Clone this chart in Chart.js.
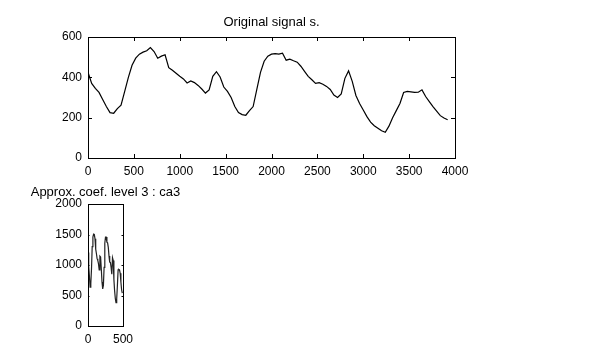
<!DOCTYPE html>
<html>
<head>
<meta charset="utf-8">
<script src="https://cdn.jsdelivr.net/npm/chart.js@4"></script>
<style>
  body { margin: 0; background: #fff; width: 605px; height: 362px; overflow: hidden; position: relative; }
  .box { position: absolute; }
</style>
</head>
<body>
<div class="box" style="left:0;top:0;width:480px;height:182px;"><canvas id="grafSenal"></canvas></div>
<div class="box" style="left:0;top:170px;width:300px;height:180px;"><canvas id="grafCa3"></canvas></div>
<script>
// señal original, una muestra cada 40 puntos
var pasoSenal = 40;
var senal = [425, 370, 345, 325, 290, 255, 225, 222, 245, 262,
  330, 400, 460, 495, 515, 525, 532, 548, 528, 495,
  505, 512, 448, 435, 420, 405, 392, 372, 382, 374,
  360, 342, 322, 338, 405, 428, 402, 352, 330, 300,
  255, 225, 215, 212, 235, 255, 340, 425, 480, 505,
  515, 518, 515, 520, 485, 490, 482, 475, 455, 430,
  405, 388, 370, 374, 366, 355, 340, 312, 300, 318,
  395, 432, 380, 310, 270, 238, 205, 178, 160, 148,
  135, 128, 158, 200, 235, 270, 325, 330, 328, 325,
  326, 338, 305, 280, 255, 232, 210, 198, 190];

// coeficientes de aproximacion nivel 3, uno cada 10 indices
var pasoCa3 = 10;
var ca3 = [1203, 976, 821, 637, 693, 934, 1302, 1457, 1506, 1500,
  1429, 1259, 1189, 1104, 1075, 1019, 920, 1146, 1132, 934,
  722, 608, 665, 962, 1358, 1457, 1457, 1373, 1364, 1288,
  1146, 1047, 1041, 962, 849, 1118, 1075, 764, 580, 453,
  382, 447, 665, 920, 928, 920, 863, 722, 594, 538];

var ticksXSenal = [0, 500, 1000, 1500, 2000, 2500, 3000, 3500, 4000];
var ticksYSenal = [0, 200, 400, 600];
var ticksXCa3 = [0, 500];
var ticksYCa3 = [0, 500, 1000, 1500, 2000];

Chart.defaults.font.family = '"Liberation Sans", Arial, sans-serif';
Chart.defaults.font.size = 12;
Chart.defaults.color = '#000';
Chart.defaults.animation = false;

function crearPuntos(lista, paso) {
  var pts = [];
  for (var i = 0; i < lista.length; i++) {
    pts.push({x: i * paso, y: lista[i]});
  }
  return pts;
}

// caja, marcas hacia dentro y titulo, estilo matlab
function pluginCaja(largo, titulo, tituloY) {
  return {
    id: 'caja',
    afterDraw: function(chart) {
      var c = chart.ctx, a = chart.chartArea;
      var sx = chart.scales.x, sy = chart.scales.y;
      c.save();
      c.strokeStyle = '#000';
      c.lineWidth = 1;
      c.beginPath();
      sx.ticks.forEach(function(t) {
        var px = Math.round(sx.getPixelForValue(t.value)) + 0.5;
        c.moveTo(px, a.bottom); c.lineTo(px, a.bottom - largo);
        c.moveTo(px, a.top); c.lineTo(px, a.top + largo);
      });
      sy.ticks.forEach(function(t) {
        var py = Math.round(sy.getPixelForValue(t.value)) + 0.5;
        c.moveTo(a.left, py); c.lineTo(a.left + largo, py);
        c.moveTo(a.right, py); c.lineTo(a.right - largo, py);
      });
      c.stroke();
      c.strokeRect(Math.round(a.left) + 0.5, Math.round(a.top) + 0.5,
        Math.round(a.right - a.left), Math.round(a.bottom - a.top));
      c.fillStyle = '#000';
      c.font = '13px "Liberation Sans", Arial, sans-serif';
      c.textAlign = 'center';
      c.textBaseline = 'middle';
      c.fillText(titulo, (a.left + a.right) / 2, tituloY);
      c.restore();
    }
  };
}

function opcionesEjes(xMax, yMax, tx, ty) {
  return {
    x: {
      type: 'linear', min: 0, max: xMax,
      afterBuildTicks: function(s) { s.ticks = tx.map(function(v) { return {value: v}; }); },
      grid: {display: false, drawTicks: false},
      border: {display: false},
      ticks: {padding: 6, maxRotation: 0, autoSkip: false, callback: function(v) { return String(v); }},
      afterFit: function(s) { s.height = 24; }
    },
    y: {
      type: 'linear', min: 0, max: yMax,
      afterBuildTicks: function(s) { s.ticks = ty.map(function(v) { return {value: v}; }); },
      grid: {display: false, drawTicks: false},
      border: {display: false},
      ticks: {padding: 6, callback: function(v) { return String(v); }},
      afterFit: function(s) { s.width = 88; }
    }
  };
}

new Chart(document.getElementById('grafSenal'), {
  type: 'line',
  data: {
    datasets: [{
      data: crearPuntos(senal, pasoSenal),
      borderColor: '#000', borderWidth: 1.2, pointRadius: 0, tension: 0
    }]
  },
  options: {
    responsive: true, maintainAspectRatio: false,
    layout: {padding: {left: 0, right: 25, top: 37, bottom: 0}},
    plugins: {legend: {display: false}, tooltip: {enabled: false}},
    scales: opcionesEjes(4000, 600, ticksXSenal, ticksYSenal)
  },
  plugins: [pluginCaja(4, 'Original signal s.', 22)]
});

new Chart(document.getElementById('grafCa3'), {
  type: 'line',
  data: {
    datasets: [{
      data: crearPuntos(ca3, pasoCa3),
      borderColor: '#222', borderWidth: 1.2, pointRadius: 0, tension: 0
    }]
  },
  options: {
    responsive: true, maintainAspectRatio: false,
    layout: {padding: {left: 0, right: 177, top: 34, bottom: 0}},
    plugins: {legend: {display: false}, tooltip: {enabled: false}},
    scales: opcionesEjes(500, 2000, ticksXCa3, ticksYCa3)
  },
  plugins: [pluginCaja(1.5, 'Approx. coef. level 3 : ca3', 22)]
});
</script>
</body>
</html>
